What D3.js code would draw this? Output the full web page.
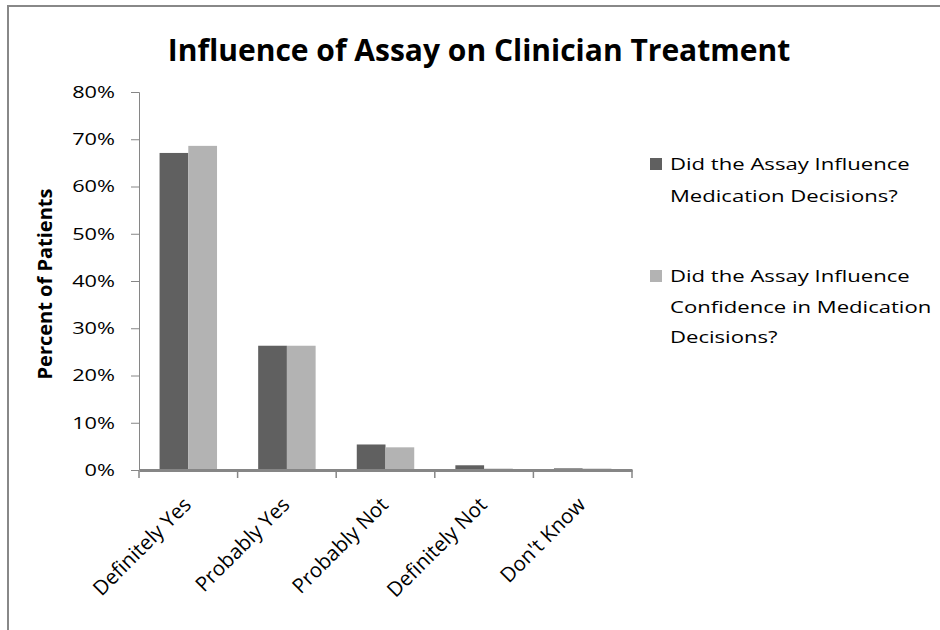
<!DOCTYPE html>
<html>
<head>
<meta charset="utf-8">
<script src="https://cdn.jsdelivr.net/npm/d3@7"></script>
<style>
  body { margin: 0; background: #fff; }
  text { font-family: "Open Sans", "Liberation Sans", sans-serif; fill: #000; }
</style>
</head>
<body>
<svg class="chart" width="940" height="630"></svg>
<script>
const categories = ["Definitely Yes", "Probably Yes", "Probably Not", "Definitely Not", "Don't Know"];
const seriesNames = [
  ["Did the Assay Influence", "Medication Decisions?"],
  ["Did the Assay Influence", "Confidence in Medication", "Decisions?"]
];
const medication = [67.1, 26.3, 5.4, 1.0, 0.35];
const confidence = [68.6, 26.3, 4.8, 0.3, 0.3];
const yTicks = [0, 10, 20, 30, 40, 50, 60, 70, 80];
const colors = ["#606060", "#b3b3b3"];

const svg = d3.select(".chart");
const width = 940;
const height = 630;
const margin = { top: 92, left: 139, right: 308, bottom: 160 };
const graphWidth = width - margin.left - margin.right;
const graphHeight = height - margin.top - margin.bottom;
const stretch = 1.28; // the reference text is drawn wide

// outer frame
svg.append("rect")
  .attr("x", 8).attr("y", 6)
  .attr("width", 1000).attr("height", 1000)
  .attr("fill", "none")
  .attr("stroke", "#888")
  .attr("stroke-width", 2);

const xScale = d3.scaleBand()
  .domain(categories)
  .range([0, graphWidth]);

const subScale = d3.scaleBand()
  .domain([0, 1])
  .range([0, xScale.bandwidth()])
  .paddingOuter(0.716);

const yScale = d3.scaleLinear()
  .domain([0, 80])
  .range([graphHeight, 0]);

const graph = svg.append("g")
  .attr("transform", `translate(${margin.left}, ${margin.top})`);

// y axis
const yAxisG = graph.append("g")
  .call(d3.axisLeft(yScale).tickValues(yTicks).tickFormat("").tickSize(8));
yAxisG.selectAll("line, path").attr("stroke", "#868686");
yAxisG.select(".domain").attr("d", `M-8,0.5H0.5V${graphHeight}`);

graph.selectAll(".ytl")
  .data(yTicks)
  .enter()
  .append("text")
  .attr("class", "ytl")
  .attr("transform", d => `translate(-24, ${yScale(d)}) scale(${stretch}, 1)`)
  .attr("text-anchor", "end")
  .attr("dy", "0.35em")
  .style("font-size", "17px")
  .text(d => d + "%");

// bars
const rows = categories.map((c, i) => ({ cat: c, values: [medication[i], confidence[i]] }));
const groups = graph.selectAll(".grp")
  .data(rows)
  .enter()
  .append("g")
  .attr("class", "grp")
  .attr("transform", d => `translate(${xScale(d.cat)}, 0)`);

groups.selectAll("rect")
  .data(d => d.values.map((v, k) => ({ v, k })))
  .enter()
  .append("rect")
  .attr("x", d => subScale(d.k))
  .attr("width", subScale.bandwidth())
  .attr("y", d => yScale(d.v))
  .attr("height", d => graphHeight - yScale(d.v))
  .attr("fill", d => colors[d.k]);

// x axis
const xAxisG = graph.append("g")
  .attr("transform", `translate(0, ${graphHeight})`)
  .call(d3.axisBottom(xScale).tickSize(0).tickFormat(""));
xAxisG.select(".domain").attr("stroke", "#868686").attr("stroke-width", 3);

const boundaries = d3.range(categories.length + 1).map(i => i * xScale.step());
xAxisG.selectAll(".sep")
  .data(boundaries)
  .enter()
  .append("line")
  .attr("x1", d => d).attr("x2", d => d)
  .attr("y1", 0).attr("y2", 8)
  .attr("stroke", "#868686")
  .attr("stroke-width", 1.5);

xAxisG.selectAll(".xl")
  .data(categories)
  .enter()
  .append("text")
  .attr("class", "xl")
  .attr("text-anchor", "end")
  .attr("transform", d => `translate(${xScale(d) + xScale.bandwidth() / 2 + 4}, 36) rotate(-45)`)
  .style("font-size", "20.5px")
  .text(d => d);

// y title
svg.append("text")
  .attr("transform", "translate(52, 284) rotate(-90)")
  .attr("text-anchor", "middle")
  .style("font-size", "20px")
  .style("font-weight", "bold")
  .text("Percent of Patients");

// title
svg.append("text")
  .attr("x", 479)
  .attr("y", 61)
  .attr("text-anchor", "middle")
  .style("font-size", "30px")
  .style("font-weight", "bold")
  .text("Influence of Assay on Clinician Treatment");

// legend
const legendY = [170, 282];
const lineGap = [32, 30.5];
seriesNames.forEach((lines, k) => {
  const g = svg.append("g").attr("transform", `translate(650, ${legendY[k]})`);
  g.append("rect")
    .attr("x", 0).attr("y", -12)
    .attr("width", 12).attr("height", 12)
    .attr("fill", colors[k]);
  g.selectAll("text")
    .data(lines)
    .enter()
    .append("text")
    .attr("transform", (d, i) => `translate(20, ${i * lineGap[k]}) scale(1.3, 1)`)
    .style("font-size", "17px")
    .text(d => d);
});
</script>
</body>
</html>
